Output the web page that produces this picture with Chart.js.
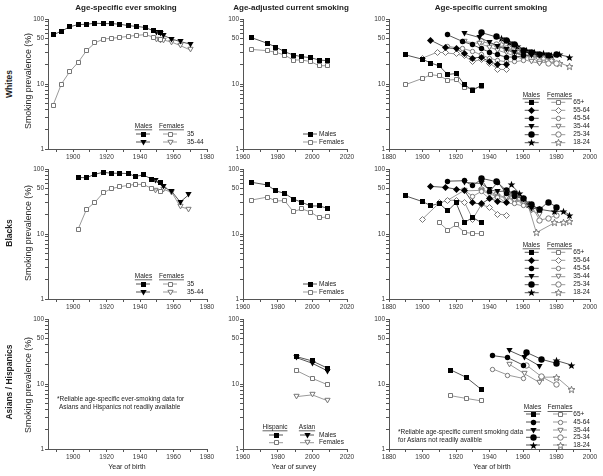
<!DOCTYPE html>
<html>
<head>
<meta charset="utf-8">
<script src="https://cdn.jsdelivr.net/npm/chart.js@4.4.0/dist/chart.umd.min.js"></script>
<style>
body{margin:0;background:#fff;}
#page{position:relative;width:603px;height:476px;overflow:hidden;font-family:"Liberation Sans",Arial,sans-serif;color:#222;}
.t{position:absolute;white-space:nowrap;transform:translate(-50%,-50%);line-height:1;}
.v{transform:translate(-50%,-50%) rotate(-90deg);}
.l{transform:translate(0,-50%);}
canvas{position:absolute;}
</style>
</head>
<body>
<div id="page"></div>
<script>
// ---- age-specific ever smoking (year of birth)
const wEverM35Yr = [1888,1893,1898,1903,1908,1913,1918,1923,1928,1933,1938,1943,1948,1952];
const wEverM35 = [57,65,76,82,83,86,85,85,83,79,77,74,66,61];
const wEverF35 = [4.7,10,15.5,21.5,32.6,42.8,49.2,50.4,52.2,54.1,56.1,57.4,52.8,49];
const wEverM3544Yr = [1950,1952,1954,1959,1964,1970];
const wEverM3544 = [62,60,56,49,45,41];
const wEverF3544 = [48,47,47.5,44,39,33.4];

const bEverM35Yr = [1903,1908,1913,1918,1923,1928,1933,1937,1942,1947,1952];
const bEverM35 = [74,73.5,83,89,86,86,85,77,81,70,62];
const bEverF35 = [11.9,23.9,30.7,43,50,53.4,56,58,58,50,45.3];
const bEverM3544Yr = [1949,1954,1959,1964,1969];
const bEverM3544 = [66,53,45,31,40];
const bEverF3544 = [46.4,48.6,43.7,26.3,24.2];

// ---- age-adjusted current smoking (year of survey)
const adjYr = [1965,1974,1979,1984,1989,1994,1999,2004,2009];
const wAdjM = [51.6,42.3,37,31.4,27.9,26.3,25.4,23.4,22.8];
const wAdjF = [34,32.6,30.7,27.9,23.4,23.4,22.1,19.1,19.1];
const bAdjM = [62.4,56.8,45.9,42.3,34.5,30.7,27,27,24.8];
const bAdjF = [33.3,37,32.2,32.6,22.1,24.3,21.8,17.8,18.3];
const ahYr = [1991,2000,2009];
const hispM = [26.3,22.6,17.4];
const asianM = [25.4,20.8,15.8];
const hispF = [16,12.2,9.7];
const asianF = [6.4,6.8,5.5];

// ---- age-specific current smoking (year of birth)
const wCur65Yr = [1890,1900,1905,1910,1915,1920,1925,1930,1935];
const wCur65M = [28,24,21,19,14,14.5,9.8,8,9.5];
const wCur65F = [9.8,12.2,13.9,13.4,11.5,11.7,8.9,8.3,9.3];
const wCur55Yr = [1905,1914,1920,1925,1930,1935,1940,1945,1950];
const wCur55M = [47,36,35,29,25,26,22,20,20];
const wCur55FYr = [1900,1909,1914,1920,1925,1930,1935,1940,1945,1950];
const wCur55F = [25,31,30,29,27,22,24,21,17,16.5];
const wCur45Yr = [1915,1924,1930,1935,1940,1945,1950,1955,1960];
const wCur45M = [57,45,40,35,31,28,26,26,27];
const wCur45F = [38,35,32,28,25,23,22,22,23];
const wCur35Yr = [1925,1934,1940,1945,1950,1955,1960,1965,1970];
const wCur35M = [60,52,44,38,34,30,28,27,27];
const wCur35F = [45,42,37,33,30,27,24,22,21];
const wCur25Yr = [1935,1944,1950,1955,1960,1965,1970,1975,1980];
const wCur25M = [62,53,46,40,33,30,28,27,28];
const wCur25F = [45,40,35,32,28,25,22,21,21];
const wCur18Yr = [1947,1952,1957,1962,1967,1972,1977,1982,1988];
const wCur18M = [50,44,38,33,30,29,27,28,26];
const wCur18F = [40,36,32,29,27,25,23,21,18.5];

const bCur65Yr = [1890,1900,1905,1910,1915,1920,1925,1930,1935];
const bCur65M = [38.5,31.5,27.3,29.6,22.6,30.4,15,18,15];
const bCur65FYr = [1910,1915,1920,1925,1930,1935];
const bCur65F = [15,11.5,13.8,10.6,10.2,10.1];
const bCur55Yr = [1905,1914,1920,1925,1930,1935,1940,1945,1950];
const bCur55M = [54,52,49,47,30,29,35,32,30];
const bCur55FYr = [1900,1910,1915,1920,1925,1930,1935,1940,1945,1950];
const bCur55F = [17,30,33,33,31,17,28,26,20.3,19.6];
const bCur45Yr = [1915,1925,1930,1935,1940,1945,1950,1955,1960];
const bCur45M = [65,66,55,70,45,63,42,38,35];
const bCur45F = [33,47,38,45,35,37,30,29,27];
const bCur35Yr = [1925,1935,1940,1945,1950,1955,1960,1965,1970];
const bCur35M = [62,60,48,45,46,40,34,25,24];
const bCur35F = [46,47,41,38,36,33,30,23,20];
const bCur25Yr = [1935,1944,1950,1955,1960,1965,1970,1975,1980];
const bCur25M = [72,64,47,42,35,28,24,31,26];
const bCur25F = [48,41,36,34,31,27,16.4,17.4,19.5];
const bCur18Yr = [1953,1958,1964,1970,1979,1984,1988];
const bCur18M = [57,42,28,24,22,22.5,19.6];
const bCur18FYr = [1953,1958,1963,1968,1979,1984,1988];
const bCur18F = [40,35,28,10.5,15,15,15.5];

const aCur65Yr = [1917,1926,1935];
const aCur65M = [16.4,12.7,8.3];
const aCur65F = [6.6,6.0,5.5];
const aCur45Yr = [1942,1951,1960];
const aCur45M = [27.3,25.4,19.6];
const aCur45F = [17,13.7,12.2];
const aCur35Yr = [1952,1961,1970];
const aCur35M = [32.6,25.7,18.9];
const aCur35F = [20,14.3,10.5];
const aCur25Yr = [1962,1971,1980];
const aCur25M = [30.7,24,20.8];
const aCur25F = [19.6,13,9.7];
const aCur18MYr = [1980,1989];
const aCur18M = [22.9,19.6];
const aCur18FYr = [1971,1980,1989];
const aCur18F = [12.7,12.8,8.1];

const yTickVals = [1,2,3,4,5,6,7,8,9,10,20,30,40,50,60,70,80,90,100];
const yLabelVals = [1,10,50,100];

const MALE = '#555', FEM = '#9a9a9a';
const page = document.getElementById('page');

// small marker images; open ones are inset so the stroke ends where the filled ones do
function marker(shape, filled) {
  const c = document.createElement('canvas');
  c.width = 9; c.height = 9;
  const g = c.getContext('2d');
  const d = filled ? 0 : 0.5;
  g.beginPath();
  if (shape === 'sq') g.rect(2 + d, 2 + d, 5 - 2 * d, 5 - 2 * d);
  else if (shape === 'circ') g.arc(4.5, 4.5, 2.7 - d, 0, Math.PI * 2);
  else if (shape === 'bigc') g.arc(4.5, 4.5, 3.2 - d, 0, Math.PI * 2);
  else if (shape === 'dia') { const h = 3.5 - d; g.moveTo(4.5, 4.5 - h); g.lineTo(4.5 + h, 4.5); g.lineTo(4.5, 4.5 + h); g.lineTo(4.5 - h, 4.5); g.closePath(); }
  else if (shape === 'tri') { g.moveTo(1.4 + d, 2 + d * 0.6); g.lineTo(7.6 - d, 2 + d * 0.6); g.lineTo(4.5, 7.4 - d); g.closePath(); }
  else if (shape === 'star') {
    for (let i = 0; i < 10; i++) {
      const r = i % 2 ? 1.7 - d * 0.4 : 4.1 - d, a = -Math.PI / 2 + i * Math.PI / 5;
      const px = 4.5 + r * Math.cos(a), py = 4.8 + r * Math.sin(a);
      if (i) g.lineTo(px, py); else g.moveTo(px, py);
    }
    g.closePath();
  }
  if (filled) { g.fillStyle = '#000'; g.fill(); }
  else { g.fillStyle = '#fff'; g.fill(); g.lineWidth = 1; g.strokeStyle = '#777'; g.stroke(); }
  return c;
}
const MK = {};
['sq','circ','bigc','dia','tri','star'].forEach(s => { MK[s + 'F'] = marker(s, true); MK[s + 'O'] = marker(s, false); });

function ser(xs, ys, img, male) {
  return {
    data: xs.map((x, i) => ({x: x, y: ys[i]})),
    showLine: true,
    borderColor: male ? MALE : FEM,
    borderWidth: 1,
    pointStyle: img,
    pointRadius: 3,
    pointHoverRadius: 3
  };
}

function txt(x, y, s, cls, css) {
  const d = document.createElement('div');
  d.className = 't ' + (cls || '');
  d.textContent = s;
  d.style.left = x + 'px';
  d.style.top = y + 'px';
  d.style.cssText += css || '';
  page.appendChild(d);
}

const legendPlugin = {
  id: 'legendBox',
  beforeDatasetsDraw(chart) { chart.ctx.imageSmoothingEnabled = false; },
  afterDraw(chart) {
    const lg = chart.canvas._lg;
    if (!lg) return;
    const ox = chart.canvas._ox, oy = chart.canvas._oy, ctx = chart.ctx;
    ctx.save();
    ctx.font = '6.5px "Liberation Sans"';
    ctx.fillStyle = '#222';
    ctx.textBaseline = 'middle';
    (lg.heads || []).forEach(h => {
      ctx.textAlign = 'center';
      ctx.fillText(h.t, h.x - ox, h.y - oy);
      const w = ctx.measureText(h.t).width;
      ctx.strokeStyle = '#222'; ctx.lineWidth = 0.7;
      ctx.beginPath();
      ctx.moveTo(h.x - ox - w / 2, h.y - oy + 3.8);
      ctx.lineTo(h.x - ox + w / 2, h.y - oy + 3.8);
      ctx.stroke();
    });
    lg.rows.forEach(r => {
      r.m.forEach(m => {
        ctx.strokeStyle = m.c; ctx.lineWidth = 1;
        ctx.beginPath();
        ctx.moveTo(m.x - 7 - ox, r.y - oy);
        ctx.lineTo(m.x + 7 - ox, r.y - oy);
        ctx.stroke();
        ctx.drawImage(m.img, Math.round(m.x - ox - 4.5), Math.round(r.y - oy - 4.5));
      });
      ctx.textAlign = 'left';
      ctx.fillText(r.t, r.tx - ox, r.y - oy);
    });
    ctx.restore();
  }
};

const COLS = [{L: 48, R: 207, min: 1885, max: 1980}, {L: 243, R: 347, min: 1960, max: 2020}, {L: 389, R: 590, min: 1880, max: 2000}];
const ROWS = [{T: 19, B: 149}, {T: 169, B: 299}, {T: 319, B: 449}];

function panel(row, col, datasets, legend) {
  const c = COLS[col], r = ROWS[row];
  const yW = 24, xH = 16, padT = 8, padR = 14;
  const cv = document.createElement('canvas');
  const left = c.L - yW, top = r.T - padT;
  cv.width = c.R - c.L + yW + padR;
  cv.height = r.B - r.T + padT + xH;
  cv.style.left = left + 'px';
  cv.style.top = top + 'px';
  cv._ox = left; cv._oy = top; cv._lg = legend;
  page.appendChild(cv);
  const tickFont = {family: 'Liberation Sans', size: 6.5};
  new Chart(cv.getContext('2d'), {
    type: 'scatter',
    data: {datasets: datasets.length ? datasets : [{data: []}]},
    options: {
      responsive: false,
      devicePixelRatio: 1,
      animation: false,
      layout: {padding: {top: padT, right: padR, left: 0, bottom: 0}},
      plugins: {legend: {display: false}, tooltip: {enabled: false}},
      scales: {
        x: {
          type: 'linear', min: c.min, max: c.max,
          border: {color: '#555', width: 1},
          grid: {drawOnChartArea: false, drawTicks: true, tickLength: 3, color: '#555'},
          ticks: {autoSkip: false, maxRotation: 0, padding: 1, font: tickFont, color: '#333',
            callback: v => (v % 20 === 0 ? String(v) : '')},
          afterBuildTicks: s => {
            const t = [];
            for (let v = Math.ceil(c.min / 10) * 10; v <= c.max; v += 10) t.push({value: v});
            s.ticks = t;
          },
          afterFit: s => { s.height = xH; }
        },
        y: {
          type: 'logarithmic', min: 1, max: 100,
          border: {color: '#555', width: 1},
          grid: {drawOnChartArea: false, drawTicks: true, tickLength: 3, color: '#555'},
          ticks: {autoSkip: false, padding: 1, font: tickFont, color: '#333',
            callback: v => (yLabelVals.includes(v) ? String(v) : '')},
          afterBuildTicks: s => { s.ticks = yTickVals.map(v => ({value: v})); },
          afterFit: s => { s.width = yW; }
        }
      }
    },
    plugins: [legendPlugin]
  });
}

// legends
function legEver(dy) {
  return {
    heads: [{t: 'Males', x: 143.5, y: 126 + dy}, {t: 'Females', x: 171.5, y: 126 + dy}],
    rows: [
      {y: 134 + dy, tx: 187, t: '35', m: [{x: 143, img: MK.sqF, c: MALE}, {x: 170, img: MK.sqO, c: FEM}]},
      {y: 142 + dy, tx: 187, t: '35-44', m: [{x: 143, img: MK.triF, c: MALE}, {x: 170, img: MK.triO, c: FEM}]}
    ]
  };
}
function legAdj(dy) {
  return {
    heads: [],
    rows: [
      {y: 134 + dy, tx: 319, t: 'Males', m: [{x: 310, img: MK.sqF, c: MALE}]},
      {y: 142 + dy, tx: 319, t: 'Females', m: [{x: 310, img: MK.sqO, c: FEM}]}
    ]
  };
}
function legCur(hy, ys, labels, shapes, mx, fx, hmx, hfx) {
  return {
    heads: [{t: 'Males', x: hmx, y: hy}, {t: 'Females', x: hfx, y: hy}],
    rows: labels.map((t, i) => ({
      y: ys[i], tx: 573.3, t: t,
      m: [{x: mx, img: MK[shapes[i] + 'F'], c: MALE}, {x: fx, img: MK[shapes[i] + 'O'], c: FEM}]
    }))
  };
}
const curLabels = ['65+','55-64','45-54','35-44','25-34','18-24'];
const curShapes = ['sq','dia','circ','tri','bigc','star'];
const curYs = [102.3,110.3,118.3,126.7,134.7,142.7];

// row 1: Whites
panel(0, 0, [
  ser(wEverM35Yr, wEverM35, MK.sqF, true),
  ser(wEverM3544Yr, wEverM3544, MK.triF, true),
  ser(wEverM35Yr, wEverF35, MK.sqO, false),
  ser(wEverM3544Yr, wEverF3544, MK.triO, false)
], legEver(0));
panel(0, 1, [
  ser(adjYr, wAdjM, MK.sqF, true),
  ser(adjYr, wAdjF, MK.sqO, false)
], legAdj(0));
panel(0, 2, [
  ser(wCur65Yr, wCur65M, MK.sqF, true),
  ser(wCur55Yr, wCur55M, MK.diaF, true),
  ser(wCur45Yr, wCur45M, MK.circF, true),
  ser(wCur35Yr, wCur35M, MK.triF, true),
  ser(wCur25Yr, wCur25M, MK.bigcF, true),
  ser(wCur18Yr, wCur18M, MK.starF, true),
  ser(wCur65Yr, wCur65F, MK.sqO, false),
  ser(wCur55FYr, wCur55F, MK.diaO, false),
  ser(wCur45Yr, wCur45F, MK.circO, false),
  ser(wCur35Yr, wCur35F, MK.triO, false),
  ser(wCur25Yr, wCur25F, MK.bigcO, false),
  ser(wCur18Yr, wCur18F, MK.starO, false)
], legCur(95, curYs, curLabels, curShapes, 531.7, 558.3, 531.3, 559.5));

// row 2: Blacks
panel(1, 0, [
  ser(bEverM35Yr, bEverM35, MK.sqF, true),
  ser(bEverM3544Yr, bEverM3544, MK.triF, true),
  ser(bEverM35Yr, bEverF35, MK.sqO, false),
  ser(bEverM3544Yr, bEverF3544, MK.triO, false)
], legEver(150));
panel(1, 1, [
  ser(adjYr, bAdjM, MK.sqF, true),
  ser(adjYr, bAdjF, MK.sqO, false)
], legAdj(150));
panel(1, 2, [
  ser(bCur65Yr, bCur65M, MK.sqF, true),
  ser(bCur55Yr, bCur55M, MK.diaF, true),
  ser(bCur45Yr, bCur45M, MK.circF, true),
  ser(bCur35Yr, bCur35M, MK.triF, true),
  ser(bCur25Yr, bCur25M, MK.bigcF, true),
  ser(bCur18Yr, bCur18M, MK.starF, true),
  ser(bCur65FYr, bCur65F, MK.sqO, false),
  ser(bCur55FYr, bCur55F, MK.diaO, false),
  ser(bCur45Yr, bCur45F, MK.circO, false),
  ser(bCur35Yr, bCur35F, MK.triO, false),
  ser(bCur25Yr, bCur25F, MK.bigcO, false),
  ser(bCur18FYr, bCur18F, MK.starO, false)
], legCur(245, curYs.map(v => v + 150), curLabels, curShapes, 531.7, 558.3, 531.3, 559.5));

// row 3: Asians / Hispanics
panel(2, 0, [], null);
panel(2, 1, [
  ser(ahYr, hispM, MK.sqF, true),
  ser(ahYr, asianM, MK.triF, true),
  ser(ahYr, hispF, MK.sqO, false),
  ser(ahYr, asianF, MK.triO, false)
], {
  heads: [{t: 'Hispanic', x: 275, y: 427}, {t: 'Asian', x: 307, y: 427}],
  rows: [
    {y: 435, tx: 319, t: 'Males', m: [{x: 276, img: MK.sqF, c: MALE}, {x: 307, img: MK.triF, c: MALE}]},
    {y: 442.7, tx: 319, t: 'Females', m: [{x: 276, img: MK.sqO, c: FEM}, {x: 307, img: MK.triO, c: FEM}]}
  ]
});
panel(2, 2, [
  ser(aCur65Yr, aCur65M, MK.sqF, true),
  ser(aCur45Yr, aCur45M, MK.circF, true),
  ser(aCur35Yr, aCur35M, MK.triF, true),
  ser(aCur25Yr, aCur25M, MK.bigcF, true),
  ser(aCur18MYr, aCur18M, MK.starF, true),
  ser(aCur65Yr, aCur65F, MK.sqO, false),
  ser(aCur45Yr, aCur45F, MK.circO, false),
  ser(aCur35Yr, aCur35F, MK.triO, false),
  ser(aCur25Yr, aCur25F, MK.bigcO, false),
  ser(aCur18FYr, aCur18F, MK.starO, false)
], legCur(407.7, [414,422,430,437.3,445], ['65+','45-64','35-44','25-34','18-24'],
  ['sq','circ','tri','bigc','star'], 533, 560, 532.5, 560));

// titles and labels
const bold = 'font-weight:bold;font-size:8px;';
txt(126, 8, 'Age-specific ever smoking', '', bold);
txt(291, 8, 'Age-adjusted current smoking', '', bold);
txt(491, 8, 'Age-specific current smoking', '', bold);
const rowCss = 'font-weight:bold;font-size:8.5px;';
txt(9, 84, 'Whites', 'v', rowCss);
txt(9, 233, 'Blacks', 'v', rowCss);
txt(9, 382, 'Asians / Hispanics', 'v', rowCss);
[81, 233, 385].forEach(y => txt(28, y, 'Smoking prevalence (%)', 'v', 'font-size:8.8px;'));
txt(127, 466, 'Year of birth', '', 'font-size:7px;');
txt(294, 466, 'Year of survey', '', 'font-size:7px;');
txt(492, 466, 'Year of birth', '', 'font-size:7px;');
const fn = 'font-size:6.5px;';
txt(57, 399, '*Reliable age-specific ever-smoking data for', 'l', fn);
txt(59, 407, 'Asians and Hispanics not readily available', 'l', fn);
txt(398, 432, '*Reliable age-specific current smoking data', 'l', fn);
txt(398, 439.5, 'for Asians not readily avalible', 'l', fn);
</script>
</body>
</html>
